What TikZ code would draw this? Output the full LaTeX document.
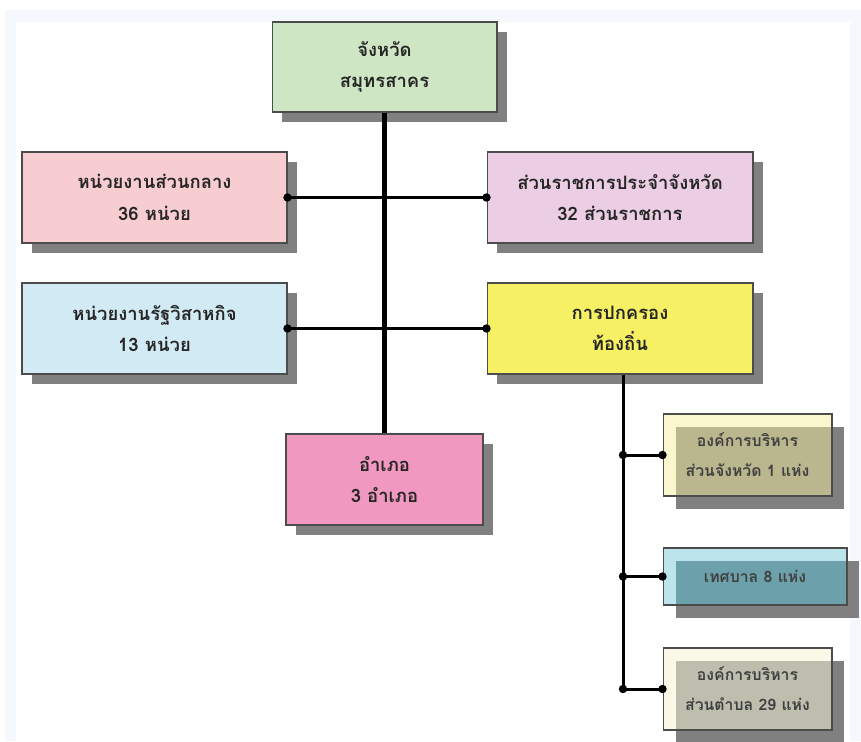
\documentclass[tikz,border=0pt]{standalone}
\usepackage{fontspec}
\newfontfamily\thaifont[Script=Thai]{Loma}
\usetikzlibrary{shadows,positioning}

\definecolor{bgblue}{RGB}{245,249,253}
\definecolor{shadowgray}{RGB}{128,128,128}
\definecolor{topgreen}{RGB}{206,230,196}
\definecolor{lightpink}{RGB}{248,205,210}
\definecolor{lilac}{RGB}{236,206,228}
\definecolor{lightcyan}{RGB}{210,234,244}
\definecolor{localyellow}{RGB}{246,240,100}
\definecolor{amphoepink}{RGB}{241,152,192}
\definecolor{cream}{RGB}{250,246,205}
\definecolor{khaki}{RGB}{186,182,142}
\definecolor{paleaqua}{RGB}{188,228,236}
\definecolor{teal}{RGB}{108,160,170}
\definecolor{ivory}{RGB}{250,249,232}
\definecolor{stone}{RGB}{190,190,174}

\begin{document}
\begin{tikzpicture}[x=0.02cm, y=-0.02cm,
  boxbase/.style={draw=black!70, line width=0.6pt, align=center, inner sep=0pt,
    text=black!85, font=\thaifont\bfseries\fontsize{10.5}{18}\selectfont},
  box/.style={boxbase, drop shadow={shadow xshift=0.2cm, shadow yshift=-0.2cm,
    fill=shadowgray, opacity=1}},
  subbox/.style={boxbase, text=black!75, font=\thaifont\bfseries\fontsize{9}{17}\selectfont,
    drop shadow={shadow xshift=0.25cm, shadow yshift=-0.25cm, fill=shadowgray, opacity=1},
    path picture={\fill[#1] ([shift={(0.25cm,-0.25cm)}]path picture bounding box.north west)
      rectangle (path picture bounding box.south east);}},
  trunk/.style={line width=2.3pt},
  branch/.style={line width=1.2pt},
  twig/.style={line width=1.7pt}]
  \useasboundingbox (0,0) rectangle (861,741);
  % background
  \fill[bgblue] (5,10) rectangle (861,741);
  \fill[white] (16,22) rectangle (850,741);

  % main boxes
  \node[box, fill=topgreen, minimum width=4.5cm, minimum height=1.8cm] (top) at (384.5,67) {จังหวัด\\สมุทรสาคร};
  \node[box, fill=lightpink, minimum width=5.3cm, minimum height=1.82cm] (central) at (154.5,197.5) {หน่วยงานส่วนกลาง\\36 หน่วย};
  \node[box, fill=lilac, minimum width=5.32cm, minimum height=1.82cm] (provincial) at (620,197.5) {ส่วนราชการประจำจังหวัด\\32 ส่วนราชการ};
  \node[box, fill=lightcyan, minimum width=5.3cm, minimum height=1.82cm] (stateent) at (154.5,328.5) {หน่วยงานรัฐวิสาหกิจ\\13 หน่วย};
  \node[box, fill=localyellow, minimum width=5.32cm, minimum height=1.82cm] (local) at (620,328.5) {การปกครอง\\ท้องถิ่น};
  \node[box, fill=amphoepink, minimum width=3.94cm, minimum height=1.82cm] (amphoe) at (384.5,479.5) {อำเภอ\\3 อำเภอ};

  % local government units
  \node[subbox=khaki, fill=cream, minimum width=3.38cm, minimum height=1.64cm] (pao) at (747.5,455) {องค์การบริหาร\\ส่วนจังหวัด 1 แห่ง};
  \node[subbox=teal, fill=paleaqua, minimum width=3.68cm, minimum height=1.14cm] (muni) at (755,576.5) {เทศบาล 8 แห่ง};
  \node[subbox=stone, fill=ivory, minimum width=3.38cm, minimum height=1.64cm] (tao) at (747.5,689) {องค์การบริหาร\\ส่วนตำบล 29 แห่ง};

  % connectors
  \draw[branch] (central.east) -- (provincial.west);
  \draw[branch] (stateent.east) -- (local.west);
  \draw[trunk] (top.south) -- (amphoe.north);
  \foreach \n in {central.east, provincial.west, stateent.east, local.west}
    \fill (\n) circle (2.4pt);

  \coordinate (lt) at ([xshift=0.06cm]local.south);
  \draw[twig] (lt) -- (lt |- tao.west);
  \foreach \n in {pao, muni, tao} {
    \draw[twig] (lt |- \n.west) -- (\n.west);
    \fill (lt |- \n.west) circle (2.4pt);
    \fill (\n.west) circle (2.4pt);
  }
\end{tikzpicture}
\end{document}
